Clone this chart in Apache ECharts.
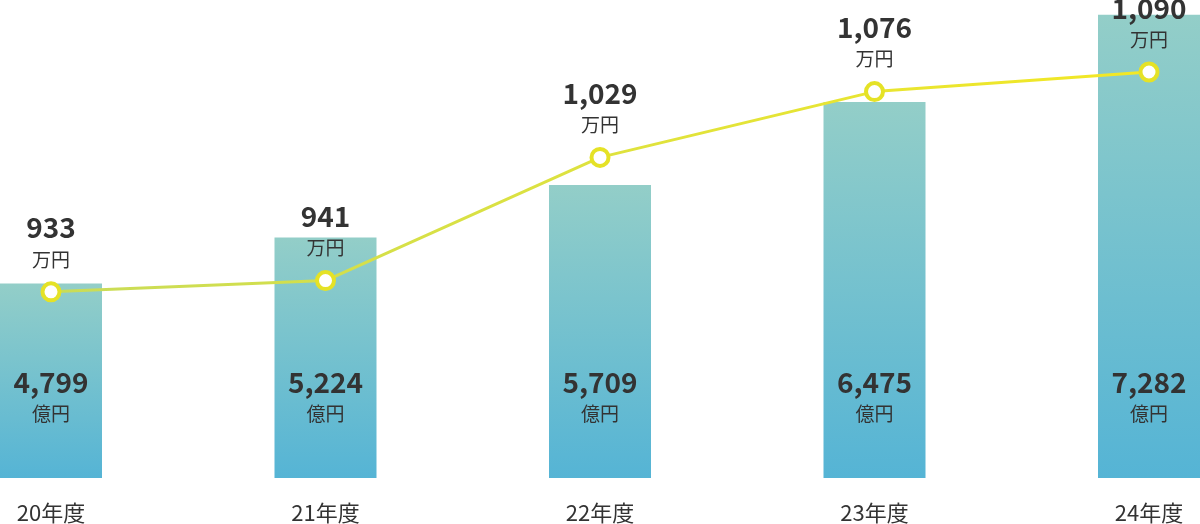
<!DOCTYPE html>
<html>
<head>
<meta charset="utf-8">
<script src="https://cdn.jsdelivr.net/npm/echarts@6/dist/echarts.min.js"></script>
<style>
  html, body { margin: 0; padding: 0; background: #fff; }
  #chart { width: 1200px; height: 524px; }
</style>
</head>
<body>
<div id="chart"></div>
<script>
const years = ['20年度', '21年度', '22年度', '23年度', '24年度']
const sales = [4799, 5224, 5709, 6475, 7282]      // 億円
const perHead = [933, 941, 1029, 1076, 1090]      // 万円

const font = '"Noto Sans CJK JP", "Noto Sans", sans-serif'
const chart = echarts.init(document.getElementById('chart'))

const richText = {
  v: { fontSize: 28, fontWeight: 'bold', color: '#333', lineHeight: 37, fontFamily: font },
  u: { fontSize: 19, color: '#333', lineHeight: 26, fontFamily: font }
}

chart.setOption({
  animation: false,
  textStyle: { fontFamily: font },
  // category band 274.5px wide, first centre at x=51
  grid: { left: -86.25, right: -86.25, top: 2, bottom: 46, outerBoundsMode: 'none' },
  xAxis: {
    type: 'category',
    data: years,
    axisLine: { show: false },
    axisTick: { show: false },
    axisLabel: { color: '#333', fontSize: 22, margin: 24, fontFamily: font }
  },
  yAxis: [
    { type: 'value', min: 3000, max: 7400, show: false },
    { type: 'value', min: 800, max: 1140, show: false }
  ],
  series: [
    {
      type: 'bar',
      data: sales,
      barWidth: 102,
      itemStyle: {
        color: new echarts.graphic.LinearGradient(0, 0, 0, 1, [
          { offset: 0, color: '#93cec8' },
          { offset: 1, color: '#55b4d5' }
        ])
      },
      label: {
        show: true,
        position: 'insideBottom',
        distance: 51,
        formatter: p => '{v|' + p.value.toLocaleString('en-US') + '}\n{u|億円}',
        rich: richText
      },
      emphasis: { disabled: true }
    },
    {
      type: 'line',
      yAxisIndex: 1,
      data: perHead,
      symbol: 'circle',
      symbolSize: 17,
      lineStyle: {
        width: 3,
        color: new echarts.graphic.LinearGradient(0, 0, 1, 0, [
          { offset: 0, color: '#c9dc58' },
          { offset: 1, color: '#f3e824' }
        ])
      },
      itemStyle: {
        color: '#fff',
        borderColor: '#e5e226',
        borderWidth: 4
      },
      label: {
        show: true,
        position: 'top',
        distance: 9,
        formatter: p => '{v|' + p.value.toLocaleString('en-US') + '}\n{u|万円}',
        rich: richText
      },
      z: 5,
      emphasis: { disabled: true }
    }
  ]
})
</script>
</body>
</html>
